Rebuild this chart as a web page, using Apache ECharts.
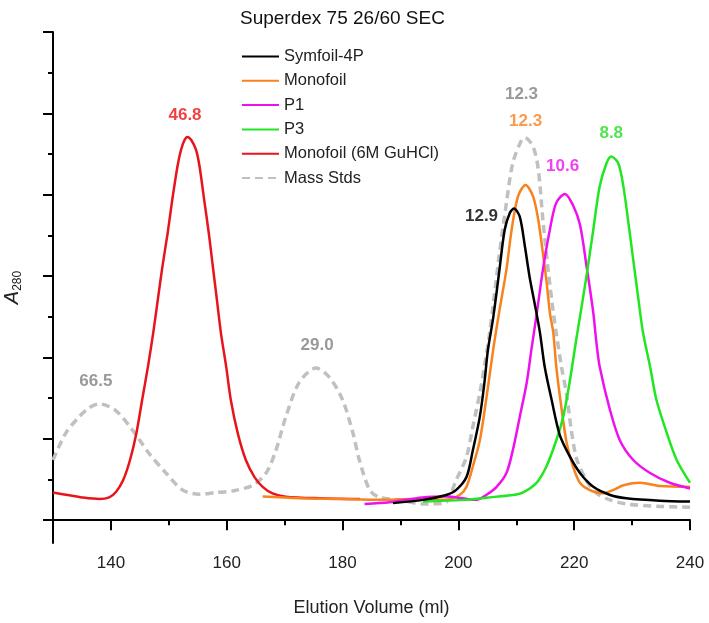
<!DOCTYPE html>
<html>
<head>
<meta charset="utf-8">
<script src="https://cdn.jsdelivr.net/npm/echarts@6/dist/echarts.min.js"></script>
<style>html,body{margin:0;padding:0;background:#fff}#c{width:709px;height:623px}</style>
</head>
<body>
<div id="c"></div>
<script>
// ---- data (x = elution volume ml, y = A280 arbitrary units) ----
var massStds = [[130,0.74],[132.2,1.07],[134.5,1.27],[136.2,1.38],[138.0,1.43],[140.8,1.35],[143.7,1.11],[146.6,0.82],[149.5,0.58],[152.4,0.37],[155.3,0.32],[158.1,0.34],[161.0,0.36],[164.5,0.43],[166.8,0.58],[168.5,0.86],[170.2,1.27],[172.5,1.69],[175.4,1.87],[177.7,1.76],[180.0,1.48],[181.8,1.07],[182.9,0.74],[184.7,0.37],[186.4,0.28],[189.8,0.25],[193.8,0.20],[197.6,0.21],[199.6,0.49],[201.4,0.78],[202.5,1.15],[203.7,1.56],[204.5,1.89],[205.4,2.30],[207.1,3.28],[208.3,3.90],[209.4,4.39],[210.9,4.67],[211.5,4.70],[212.9,4.59],[213.8,4.31],[214.6,3.69],[215.5,3.08],[216.4,2.55],[216.9,2.30],[217.8,1.89],[218.7,1.54],[219.5,1.11],[220.4,0.76],[222.1,0.49],[223.9,0.33],[226.2,0.25],[229.0,0.20],[234.8,0.17],[240,0.16]];
var monofoilGu = [[130,0.34],[132.5,0.31],[135,0.28],[138,0.26],[139.7,0.28],[140.9,0.35],[142.1,0.49],[143.3,0.74],[144.4,1.07],[145.4,1.48],[146.4,1.89],[147.3,2.30],[148.1,2.71],[148.9,3.12],[149.8,3.53],[150.6,3.94],[151.5,4.35],[152.1,4.55],[152.7,4.67],[153.2,4.71],[153.9,4.67],[154.7,4.55],[155.3,4.35],[156.1,3.94],[156.9,3.53],[157.6,3.12],[158.3,2.71],[159.0,2.30],[159.9,1.89],[160.7,1.48],[161.9,1.07],[163.3,0.74],[164.8,0.53],[166.2,0.41],[167.9,0.33],[170.2,0.29],[176,0.27],[183,0.26]];
var monofoil = [[166.2,0.29],[172.5,0.27],[179.5,0.26],[186.4,0.25],[192.1,0.26],[197.9,0.25],[200.2,0.31],[201.4,0.41],[202.5,0.66],[203.7,0.98],[204.8,1.48],[206.0,2.09],[207.1,2.58],[208.3,3.08],[209.2,3.57],[210.3,3.98],[211.6,4.12],[212.9,3.98],[213.8,3.69],[214.6,3.28],[215.2,2.95],[215.8,2.55],[216.4,2.30],[216.9,1.89],[217.8,1.38],[218.7,0.95],[219.8,0.66],[221.0,0.46],[222.7,0.37],[225.0,0.33],[226.7,0.37],[228.5,0.43],[231.4,0.46],[234.8,0.42],[240,0.41]];
var symfoil = [[188.7,0.21],[193.9,0.25],[197.9,0.31],[199.6,0.37],[201.4,0.53],[202.5,0.86],[203.7,1.27],[204.5,1.69],[205.1,2.09],[206.0,2.48],[207.1,3.08],[208.0,3.57],[208.9,3.78],[209.6,3.83],[210.6,3.73],[211.5,3.36],[212.3,2.99],[213.4,2.58],[214.1,2.30],[214.9,1.89],[216.1,1.48],[217.5,1.05],[219.2,0.79],[221.0,0.58],[223.3,0.41],[226.2,0.31],[229.0,0.27],[234.8,0.24],[240,0.23]];
var p1 = [[183.8,0.20],[188.1,0.22],[193.8,0.28],[197.9,0.29],[200.7,0.27],[203.1,0.25],[204.8,0.31],[206.6,0.41],[208.3,0.58],[209.4,0.86],[210.6,1.27],[211.8,1.69],[212.6,2.09],[213.5,2.52],[214.6,3.08],[215.8,3.57],[216.9,3.90],[218.4,4.01],[219.8,3.87],[221.0,3.63],[222.1,3.14],[223.3,2.55],[223.8,2.21],[224.4,1.89],[226.2,1.35],[227.9,0.98],[230.2,0.74],[233.1,0.58],[236.5,0.46],[240,0.39]];
var p3 = [[193.9,0.23],[200.8,0.25],[206.6,0.29],[209.4,0.31],[211.1,0.34],[213.5,0.46],[215.2,0.66],[216.9,0.98],[218.1,1.27],[219.2,1.69],[220.4,2.24],[221.0,2.50],[222.1,2.99],[223.3,3.57],[224.4,4.10],[225.6,4.39],[226.4,4.47],[227.6,4.39],[228.5,4.10],[229.3,3.69],[230.2,3.20],[231.1,2.71],[231.9,2.30],[233.1,1.89],[234.2,1.48],[236.0,1.07],[237.7,0.74],[240,0.46]];

var peakLabelText = ['46.8','66.5','29.0','12.9','12.3','12.3','10.6','8.8'];
var peakLabelX = [152.8,137.4,175.6,204.0,210.9,211.6,218.0,226.4];
var peakLabelY = [4.97,1.71,2.15,3.74,5.24,4.90,4.35,4.76];
var peakLabelColor = ['#ee1111','#808080','#808080','#000000','#808080','#f7821e','#ee11ee','#22dd22'];

var xMajorTicks = [140,160,180,200,220,240];
var xMinorTicks = [130,150,170,190,210,230];
var yMajorTicks = [0,1,2,3,4,5,6];
var yMinorTicks = [0.5,1.5,2.5,3.5,4.5,5.5];

var legendNames = ['Symfoil-4P','Monofoil','P1','P3','Monofoil (6M GuHCl)','Mass Stds'];

var FONT = 'Liberation Sans, Arial, sans-serif';

function lineSeries(name, data, color, width, type) {
  return {
    name: name, type: 'line', data: data, symbol: 'none', showSymbol: false,
    smooth: 0.3,
    lineStyle: {color: color, width: width, type: type || 'solid', cap: 'butt'},
    itemStyle: {color: color},
    xAxisIndex: 0, yAxisIndex: 0, z: 2
  };
}

var labelData = peakLabelText.map(function (t, i) {
  return {value: [peakLabelX[i], peakLabelY[i], t], label: {color: peakLabelColor[i]}};
});

var chart = echarts.init(document.getElementById('c'));
chart.setOption({
  animation: false,
  backgroundColor: '#fff',
  textStyle: {fontFamily: FONT},
  title: {
    text: 'Superdex 75 26/60 SEC', left: 235, top: 4,
    textStyle: {fontFamily: FONT, fontSize: 19, fontWeight: 'normal', color: '#111'}
  },
  legend: {
    data: legendNames, orient: 'vertical', left: 236, top: 43,
    itemWidth: 37, itemHeight: 14, itemGap: 7.3,
    itemStyle: {opacity: 0},
    textStyle: {fontFamily: FONT, fontSize: 16.5, color: '#222'}
  },
  grid: {left: 53, right: 19, top: 32, bottom: 80, outerBoundsMode: 'none', containLabel: false},
  xAxis: [{
    type: 'value', position: 'bottom', min: 130, max: 240,
    name: 'Elution Volume (ml)', nameLocation: 'middle', nameGap: 56,
    nameTextStyle: {fontFamily: FONT, fontSize: 18, color: '#222'},
    axisLine: {show: true, lineStyle: {color: '#000', width: 2}},
    axisTick: {show: true, customValues: xMajorTicks, length: 10, lineStyle: {color: '#000', width: 2}},
    axisLabel: {customValues: xMajorTicks, fontFamily: FONT, fontSize: 17, color: '#222', margin: 12},
    splitLine: {show: false}
  }, {
    type: 'value', position: 'bottom', min: 130, max: 240,
    axisLine: {show: false},
    axisTick: {show: true, customValues: xMinorTicks, length: 5, lineStyle: {color: '#000', width: 2}},
    axisLabel: {show: false},
    splitLine: {show: false}
  }],
  yAxis: [{
    type: 'value', position: 'left', min: -0.28, max: 6,
    name: '{a|A}{s|280}', nameLocation: 'middle', nameGap: 29, nameRotate: 90,
    nameTextStyle: {
      rich: {
        a: {fontFamily: FONT, fontSize: 20, fontStyle: 'italic', color: '#222', lineHeight: 24},
        s: {fontFamily: FONT, fontSize: 12, color: '#222', lineHeight: 24, verticalAlign: 'bottom', padding: [10, 0, 0, 0]}
      }
    },
    axisLine: {show: true, lineStyle: {color: '#000', width: 2}},
    axisTick: {show: true, customValues: yMajorTicks, length: 10, lineStyle: {color: '#000', width: 2}},
    axisLabel: {show: false},
    splitLine: {show: false}
  }, {
    type: 'value', position: 'left', min: -0.28, max: 6,
    axisLine: {show: false},
    axisTick: {show: true, customValues: yMinorTicks, length: 5, lineStyle: {color: '#000', width: 2}},
    axisLabel: {show: false},
    splitLine: {show: false}
  }],
  series: [
    lineSeries('Mass Stds', massStds, '#c0c0c0', 3.5, [8, 5]),
    lineSeries('Monofoil (6M GuHCl)', monofoilGu, '#e8141c', 2.5),
    lineSeries('Monofoil', monofoil, '#f7821e', 2.5),
    lineSeries('P1', p1, '#ee11ee', 2.5),
    lineSeries('P3', p3, '#22e622', 2.5),
    lineSeries('Symfoil-4P', symfoil, '#000000', 2.5),
    {
      name: 'peakLabels', type: 'scatter', symbolSize: 0, data: labelData,
      xAxisIndex: 0, yAxisIndex: 0, z: 5, silent: true,
      label: {
        show: true, position: 'inside', fontFamily: FONT, fontSize: 17, fontWeight: 'bold',
        formatter: function (p) { return p.value[2]; }
      }
    }
  ]
});
</script>
</body>
</html>
